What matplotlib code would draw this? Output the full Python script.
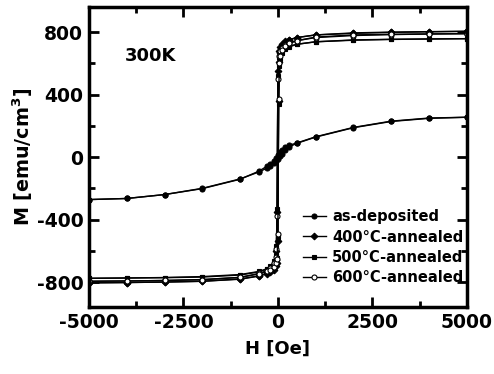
import matplotlib
matplotlib.use("Agg")
import matplotlib.pyplot as plt
from matplotlib.ticker import MultipleLocator

# as-deposited: descending and ascending branches
h_dep_down = [5000, 4000, 3000, 2000, 1000, 500, 300, 200, 100, 50, 0, -50, -100, -200, -300, -500, -1000, -2000, -3000, -4000, -5000]
m_dep_down = [255, 250, 230, 190, 130, 90, 76, 62, 45, 32, 15, -5, -22, -45, -60, -90, -142, -202, -240, -265, -272]
h_dep_up = [-5000, -4000, -3000, -2000, -1000, -500, -300, -200, -100, -50, 0, 50, 100, 200, 300, 500, 1000, 2000, 3000, 4000, 5000]
m_dep_up = [-272, -265, -240, -200, -140, -95, -72, -58, -40, -28, -12, 5, 22, 45, 65, 88, 128, 188, 228, 248, 255]

# annealed samples share the same field grid
h_down = [5000, 4000, 3000, 2000, 1000, 500, 300, 200, 100, 50, 20, 0, -20, -40, -60, -100, -200, -300, -500, -1000, -2000, -3000, -4000, -5000]
h_up = [-5000, -4000, -3000, -2000, -1000, -500, -300, -200, -100, -50, -20, 0, 20, 40, 60, 100, 200, 300, 500, 1000, 2000, 3000, 4000, 5000]

m400_down = [805, 802, 798, 792, 782, 765, 752, 742, 725, 705, 680, 550, -350, -600, -660, -700, -730, -745, -760, -780, -795, -800, -803, -805]
m400_up = [-805, -803, -800, -795, -782, -762, -748, -738, -720, -700, -675, -540, 360, 610, 665, 705, 735, 750, 765, 782, 795, 800, 803, 805]

m500_down = [758, 756, 753, 748, 738, 722, 710, 700, 685, 665, 640, 520, -330, -570, -625, -665, -700, -715, -735, -755, -768, -772, -774, -776]
m500_up = [-776, -774, -771, -765, -752, -732, -718, -707, -690, -670, -645, -510, 340, 580, 630, 665, 690, 705, 722, 738, 750, 754, 756, 758]

m600_down = [790, 788, 784, 778, 765, 745, 730, 718, 700, 680, 650, 500, -380, -590, -640, -680, -712, -728, -745, -770, -785, -790, -793, -795]
m600_up = [-795, -793, -790, -784, -770, -748, -732, -720, -702, -680, -655, -490, 370, 600, 650, 685, 713, 728, 745, 768, 782, 786, 788, 790]

labels = ["as-deposited", "400\u00b0C-annealed", "500\u00b0C-annealed", "600\u00b0C-annealed"]

plt.rcParams['font.family'] = ['DejaVu Sans']
plt.rcParams['font.weight'] = 'bold'
plt.rcParams['axes.unicode_minus'] = False
plt.rcParams['mathtext.default'] = 'bf'

fig = plt.figure(figsize=(4.94, 3.74), dpi=100)
ax = fig.add_axes([0.180, 0.179, 0.765, 0.802])

series = [
    (h_dep_down, m_dep_down, h_dep_up, m_dep_up, "o", 3.6, "k"),
    (h_down, m400_down, h_up, m400_up, "D", 3.4, "k"),
    (h_down, m500_down, h_up, m500_up, "s", 2.6, "k"),
    (h_down, m600_down, h_up, m600_up, "o", 3.6, "white"),
]
for i, (hd, md, hu, mu, mk, ms, fc) in enumerate(series):
    ax.plot(hd, md, color="k", lw=1.0, marker=mk, ms=ms, mfc=fc, mec="k", mew=0.8, label=labels[i])
    ax.plot(hu, mu, color="k", lw=1.0, marker=mk, ms=ms, mfc=fc, mec="k", mew=0.8)

ax.set_xlim(-5000, 5000)
ax.set_ylim(-960, 960)
ax.xaxis.set_major_locator(MultipleLocator(2500))
ax.xaxis.set_minor_locator(MultipleLocator(1250))
ax.yaxis.set_major_locator(MultipleLocator(400))
ax.yaxis.set_minor_locator(MultipleLocator(200))
ax.tick_params(which="both", direction="in", top=True, right=True, width=2, labelsize=13.5, pad=4)
ax.tick_params(which="major", length=7)
ax.tick_params(which="minor", length=4)
for lab in ax.get_xticklabels() + ax.get_yticklabels():
    lab.set_fontweight("bold")
for sp in ax.spines.values():
    sp.set_linewidth(2.5)

ax.set_xlabel("H [Oe]", fontsize=13, fontweight="bold", labelpad=6)
ax.set_ylabel("M [emu/cm$^{3}$]", fontsize=13.8, fontweight="bold", labelpad=1)
ax.text(0.095, 0.82, "300K", transform=ax.transAxes, fontsize=13, fontweight="bold")

ax.legend(loc="lower right", bbox_to_anchor=(1.01, 0.05), frameon=False,
          handlelength=1.6, handletextpad=0.4, labelspacing=0.35, borderpad=0,
          prop={"weight": "bold", "size": 10.5})

fig.savefig("out.png", dpi=100)
